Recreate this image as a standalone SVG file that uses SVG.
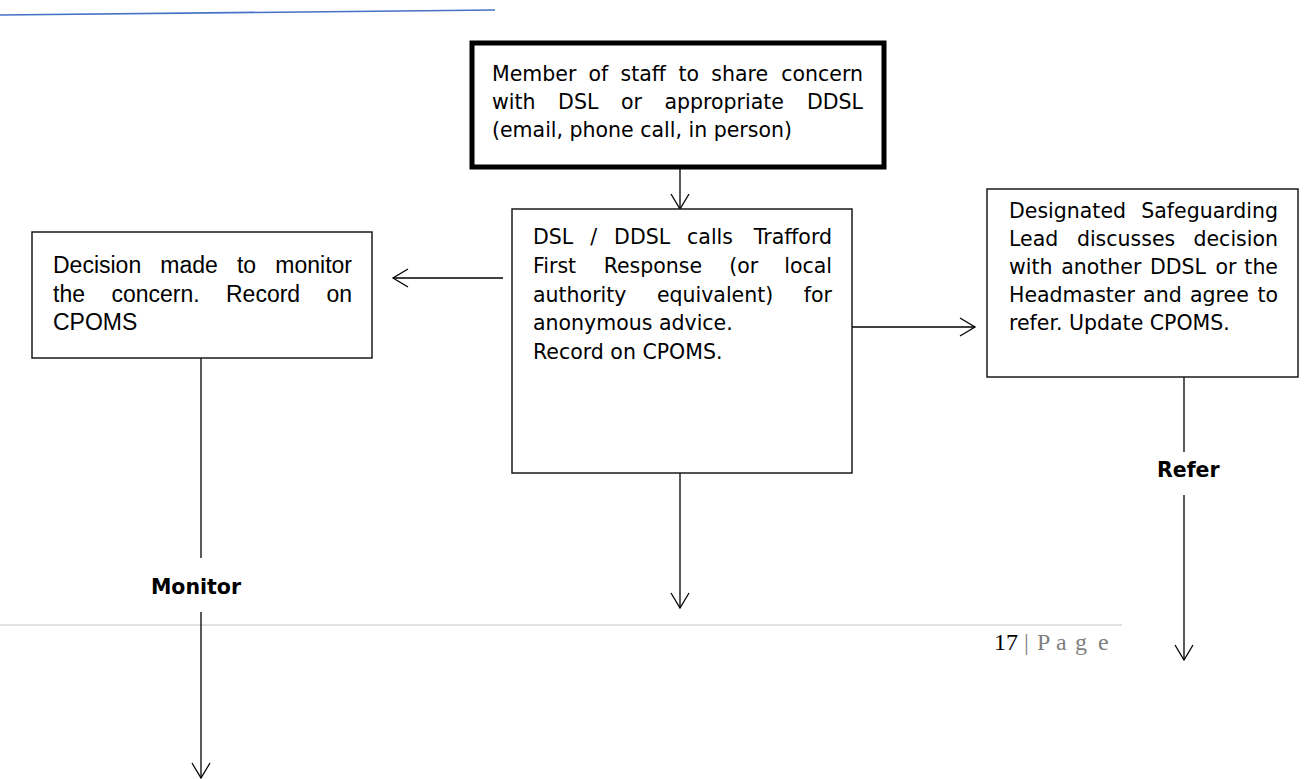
<svg xmlns="http://www.w3.org/2000/svg" width="1308" height="779" viewBox="0 0 1308 779">
<style>
.box{fill:#fff;stroke:#1a1a1a;stroke-width:1.5}
.thick{fill:#fff;stroke:#000;stroke-width:5}
.t{font-family:"DejaVu Sans",Verdana,sans-serif;font-size:20.5px;fill:#000}
.a{font-family:"Liberation Sans",Arial,sans-serif;font-size:23px;fill:#000}
.b{font-family:"DejaVu Sans",Verdana,sans-serif;font-size:20.5px;font-weight:bold;fill:#000}
.c{fill:none;stroke:#000;stroke-width:1.3}
</style>
<defs>
<marker id="arr" markerUnits="userSpaceOnUse" markerWidth="20" markerHeight="22" refX="16" refY="10" orient="auto">
<path d="M1,1 L16,10 L1,19" fill="none" stroke="#000" stroke-width="1.3"/>
</marker>
</defs>
<line x1="0" y1="15" x2="495" y2="10" stroke="#4472C4" stroke-width="1.6"/>
<g id="footer">
<line x1="0" y1="625" x2="1122" y2="625" stroke="#d9d9d9" stroke-width="1.5"/>
<text x="994" y="650" font-family="Liberation Serif,'Times New Roman',serif" font-size="24" fill="#000">17</text>
<text x="1024" y="650" font-family="Liberation Serif,'Times New Roman',serif" font-size="24" fill="#7f7f7f">|</text>
<text x="1037 1056 1075 1098" y="650" font-family="Liberation Serif,'Times New Roman',serif" font-size="24" fill="#7f7f7f">Page</text>
</g>
<g id="connectors">
<line class="c" x1="680" y1="168" x2="680" y2="209" marker-end="url(#arr)"/>
<line class="c" x1="503" y1="278" x2="393" y2="278" marker-end="url(#arr)"/>
<line class="c" x1="852" y1="327" x2="975" y2="327" marker-end="url(#arr)"/>
<line class="c" x1="680" y1="473" x2="680" y2="608" marker-end="url(#arr)"/>
<line class="c" x1="201" y1="348" x2="201" y2="558"/>
<line class="c" x1="201" y1="612" x2="201" y2="778" marker-end="url(#arr)"/>
<line class="c" x1="1184" y1="373" x2="1184" y2="452"/>
<line class="c" x1="1184" y1="495" x2="1184" y2="660" marker-end="url(#arr)"/>
</g>
<g id="node-share">
<rect class="thick" x="472" y="43" width="412" height="124"/>
<text class="t" y="81"><tspan x="492">Member</tspan><tspan x="588.5">of</tspan><tspan x="620.5">staff</tspan><tspan x="678.5">to</tspan><tspan x="711.3">share</tspan><tspan x="863" text-anchor="end">concern</tspan></text>
<text class="t" y="109"><tspan x="492">with</tspan><tspan x="558.1">DSL</tspan><tspan x="620.9">or</tspan><tspan x="664.5">appropriate</tspan><tspan x="863" text-anchor="end">DDSL</tspan></text>
<text class="t" x="492" y="137">(email, phone call, in person)</text>
</g>
<g id="node-monitor">
<rect class="box" x="32" y="232" width="340" height="126"/>
<text class="a" y="273"><tspan x="53">Decision</tspan><tspan x="160.3">made</tspan><tspan x="236.9">to</tspan><tspan x="352" text-anchor="end">monitor</tspan></text>
<text class="a" y="302"><tspan x="53">the</tspan><tspan x="111.4">concern.</tspan><tspan x="226">Record</tspan><tspan x="352" text-anchor="end">on</tspan></text>
<text class="a" x="53" y="330">CPOMS</text>
</g>
<g id="node-call">
<rect class="box" x="512" y="209" width="340" height="264"/>
<text class="t" y="244"><tspan x="533">DSL</tspan><tspan x="590.2">/</tspan><tspan x="614.1">DDSL</tspan><tspan x="687.1">calls</tspan><tspan x="832" text-anchor="end">Trafford</tspan></text>
<text class="t" y="273"><tspan x="533">First</tspan><tspan x="603.7">Response</tspan><tspan x="729.2">(or</tspan><tspan x="832" text-anchor="end">local</tspan></text>
<text class="t" y="302"><tspan x="533">authority</tspan><tspan x="656.9">equivalent)</tspan><tspan x="832" text-anchor="end">for</tspan></text>
<text class="t" x="533" y="330">anonymous advice.</text>
<text class="t" x="533" y="359">Record on CPOMS.</text>
</g>
<g id="node-refer">
<rect class="box" x="987" y="189" width="311" height="188"/>
<text class="t" y="218"><tspan x="1009">Designated</tspan><tspan x="1278" text-anchor="end">Safeguarding</tspan></text>
<text class="t" y="246"><tspan x="1009">Lead</tspan><tspan x="1076.9">discusses</tspan><tspan x="1278" text-anchor="end">decision</tspan></text>
<text class="t" y="274"><tspan x="1009">with</tspan><tspan x="1061.2">another</tspan><tspan x="1150">DDSL</tspan><tspan x="1215.5">or</tspan><tspan x="1278" text-anchor="end">the</tspan></text>
<text class="t" y="302"><tspan x="1009">Headmaster</tspan><tspan x="1143.1">and</tspan><tspan x="1190">agree</tspan><tspan x="1278" text-anchor="end">to</tspan></text>
<text class="t" x="1009" y="330">refer. Update CPOMS.</text>
</g>
<g id="label-monitor"><text class="b" x="196" y="594" text-anchor="middle">Monitor</text></g>
<g id="label-refer"><text class="b" x="1157" y="477">Refer</text></g>
</svg>
